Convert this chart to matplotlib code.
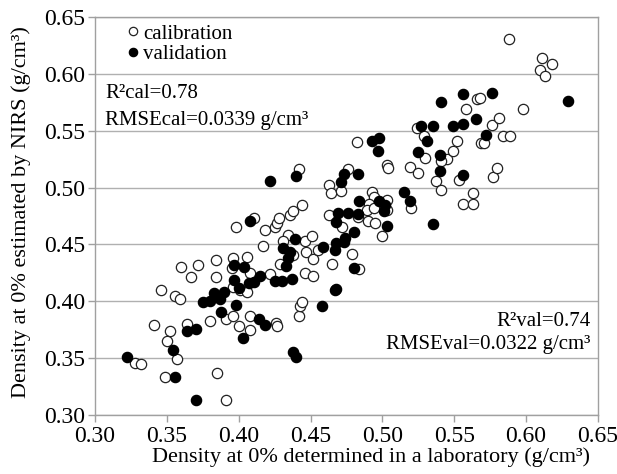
import matplotlib
matplotlib.use("Agg")
import matplotlib.pyplot as plt
from matplotlib.lines import Line2D

plt.rcParams['font.family'] = ['Liberation Serif', 'DejaVu Serif']

cal_x = [0.328, 0.332, 0.341, 0.346, 0.352, 0.350, 0.349, 0.357, 0.356, 0.359, 0.364, 0.367, 0.360, 0.372,
         0.380, 0.384, 0.384, 0.385, 0.391, 0.391, 0.396, 0.400, 0.396, 0.395, 0.396, 0.401, 0.406, 0.406,
         0.408, 0.408, 0.408, 0.422, 0.426, 0.427, 0.429, 0.442, 0.443, 0.444, 0.446, 0.452,
         0.398, 0.411, 0.418, 0.425, 0.427, 0.428, 0.436, 0.438, 0.444, 0.442, 0.434, 0.431, 0.417, 0.438,
         0.446, 0.451, 0.447, 0.452, 0.455,
         0.463, 0.464, 0.471, 0.463, 0.472, 0.476, 0.482, 0.465, 0.479, 0.484, 0.483,
         0.493, 0.494, 0.491, 0.503, 0.489, 0.494, 0.490, 0.495, 0.500, 0.503,
         0.503, 0.504, 0.519, 0.525, 0.520, 0.530, 0.545, 0.541, 0.549, 0.553, 0.537, 0.541, 0.563,
         0.556, 0.563, 0.577, 0.580,
         0.524, 0.529, 0.552, 0.569, 0.571, 0.584, 0.589, 0.576, 0.581, 0.558, 0.566, 0.568, 0.598,
         0.588, 0.611, 0.618, 0.610, 0.613]
cal_y = [0.346, 0.345, 0.379, 0.410, 0.374, 0.365, 0.333, 0.349, 0.405, 0.402, 0.380, 0.421, 0.430, 0.432,
         0.383, 0.421, 0.436, 0.337, 0.313, 0.384, 0.387, 0.378, 0.438, 0.429, 0.413, 0.410, 0.408, 0.439,
         0.425, 0.387, 0.375, 0.424, 0.381, 0.378, 0.433, 0.387, 0.396, 0.399, 0.425, 0.422,
         0.465, 0.473, 0.463, 0.465, 0.469, 0.473, 0.476, 0.479, 0.485, 0.516, 0.458, 0.453, 0.449, 0.441,
         0.453, 0.457, 0.443, 0.437, 0.445,
         0.502, 0.495, 0.497, 0.476, 0.465, 0.516, 0.540, 0.433, 0.442, 0.428, 0.474,
         0.496, 0.492, 0.486, 0.489, 0.480, 0.482, 0.471, 0.469, 0.457, 0.480,
         0.520, 0.517, 0.518, 0.513, 0.482, 0.526, 0.525, 0.523, 0.532, 0.507, 0.506, 0.498, 0.495,
         0.486, 0.486, 0.509, 0.517,
         0.552, 0.545, 0.541, 0.539, 0.539, 0.545, 0.545, 0.555, 0.561, 0.569, 0.578, 0.579, 0.569,
         0.631, 0.614, 0.609, 0.603, 0.598]

val_x = [0.322, 0.354, 0.356, 0.370, 0.364, 0.370, 0.375, 0.380, 0.383, 0.387, 0.390, 0.388, 0.398,
         0.397, 0.400, 0.403, 0.407, 0.411, 0.415, 0.414, 0.418, 0.425, 0.430, 0.437, 0.438, 0.440,
         0.458, 0.467, 0.397, 0.404,
         0.422, 0.440, 0.408, 0.439, 0.431, 0.436, 0.434, 0.433, 0.459,
         0.471, 0.473, 0.483, 0.484, 0.469, 0.476, 0.483, 0.468, 0.480, 0.474, 0.473, 0.468, 0.467,
         0.498, 0.502, 0.501, 0.503, 0.480, 0.468, 0.493, 0.498, 0.497,
         0.515, 0.519, 0.535, 0.540, 0.556, 0.525, 0.540, 0.531, 0.527, 0.535, 0.549, 0.556, 0.565,
         0.572, 0.541, 0.556, 0.576, 0.629]
val_y = [0.351, 0.357, 0.333, 0.313, 0.374, 0.376, 0.399, 0.400, 0.407, 0.402, 0.408, 0.391, 0.397,
         0.419, 0.412, 0.368, 0.416, 0.417, 0.422, 0.384, 0.379, 0.418, 0.418, 0.420, 0.355, 0.351,
         0.396, 0.410, 0.432, 0.430,
         0.506, 0.510, 0.471, 0.455, 0.447, 0.443, 0.438, 0.431, 0.448,
         0.505, 0.512, 0.512, 0.488, 0.478, 0.478, 0.477, 0.470, 0.461, 0.456, 0.452, 0.451, 0.445,
         0.488, 0.485, 0.479, 0.466, 0.429, 0.411, 0.541, 0.544, 0.532,
         0.496, 0.488, 0.468, 0.515, 0.511, 0.531, 0.529, 0.541, 0.554, 0.554, 0.554, 0.556, 0.560,
         0.546, 0.575, 0.582, 0.583, 0.576]

ticks = [0.30, 0.35, 0.40, 0.45, 0.50, 0.55, 0.60, 0.65]
tick_labels = ["0.30", "0.35", "0.40", "0.45", "0.50", "0.55", "0.60", "0.65"]

fig = plt.figure(figsize=(6.17, 4.74), dpi=100)
ax = fig.add_axes([0.154, 0.1245, 0.815, 0.8395])

ax.scatter(cal_x, cal_y, s=55, facecolors='white', edgecolors='#222222', linewidths=0.9, zorder=3)
ax.scatter(val_x, val_y, s=55, facecolors='black', edgecolors='black', linewidths=0.9, zorder=4)

ax.set_xlim(0.30, 0.65)
ax.set_ylim(0.30, 0.65)
ax.set_xticks(ticks)
ax.set_xticklabels(tick_labels)
ax.set_yticks(ticks)
ax.set_yticklabels(tick_labels)
ax.yaxis.grid(True, color='#b0b0b0', linewidth=1.0, zorder=0)
ax.set_axisbelow(True)
for sp in ax.spines.values():
    sp.set_color('#a0a0a0')
    sp.set_linewidth(1.0)
ax.tick_params(axis='both', colors='#a0a0a0', labelcolor='black', labelsize=17, length=5, width=1.0)
ax.tick_params(axis='y', pad=2)
ax.tick_params(axis='x', pad=3)

ax.set_xlabel("Density at 0% determined in a laboratory (g/cm³)", fontsize=16)
ax.set_ylabel("Density at 0% estimated by NIRS (g/cm³)", fontsize=16)
ax.xaxis.set_label_coords(0.548, -0.08)
ax.yaxis.set_label_coords(-0.128, 0.51)

handles = [Line2D([], [], marker='o', linestyle='none', markerfacecolor='white', markeredgecolor='#222222',
                  markersize=6, markeredgewidth=0.9),
           Line2D([], [], marker='o', linestyle='none', markerfacecolor='black', markeredgecolor='black',
                  markersize=6, markeredgewidth=0.9)]
ax.legend(handles, ["calibration", "validation"], loc='upper left', bbox_to_anchor=(0.038, 1.003),
          frameon=False, fontsize=15, handletextpad=0.0, handlelength=1.0, labelspacing=0.05,
          borderaxespad=0.0)

ax.text(0.02, 0.808, "R²cal=0.78", transform=ax.transAxes, fontsize=15, va='center', ha='left')
ax.text(0.02, 0.741, "RMSEcal=0.0339 g/cm³", transform=ax.transAxes, fontsize=15, va='center', ha='left')
ax.text(0.985, 0.236, "R²val=0.74", transform=ax.transAxes, fontsize=15, va='center', ha='right')
ax.text(0.985, 0.176, "RMSEval=0.0322 g/cm³", transform=ax.transAxes, fontsize=15, va='center', ha='right')

fig.savefig("out.png", dpi=100)
